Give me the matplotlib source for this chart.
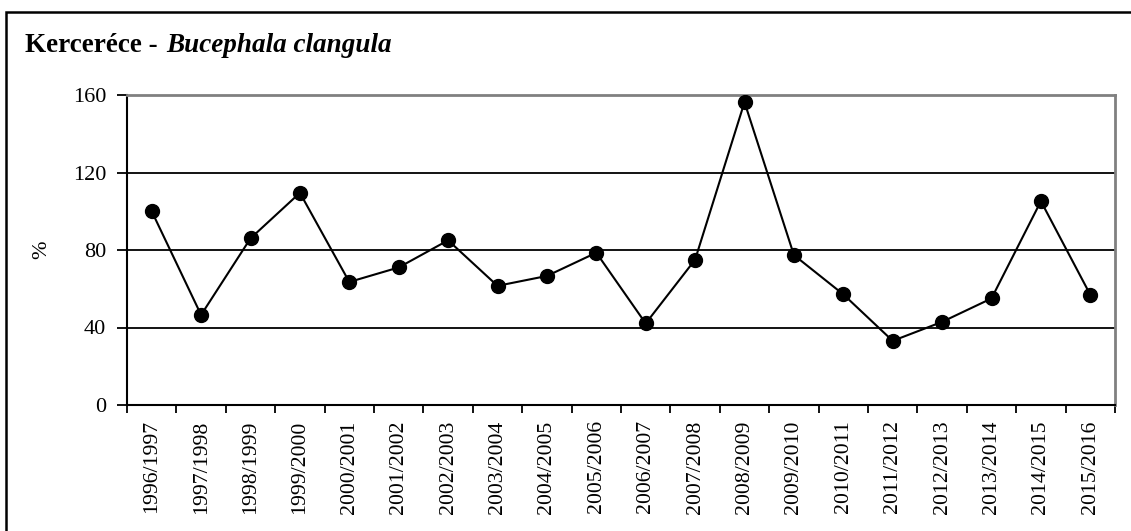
import matplotlib
matplotlib.use("Agg")
import matplotlib.pyplot as plt
from matplotlib.patches import Rectangle

# seasons and index values (%)
seasons = ["1996/1997", "1997/1998", "1998/1999", "1999/2000", "2000/2001",
           "2001/2002", "2002/2003", "2003/2004", "2004/2005", "2005/2006",
           "2006/2007", "2007/2008", "2008/2009", "2009/2010", "2010/2011",
           "2011/2012", "2012/2013", "2013/2014", "2014/2015", "2015/2016"]
values = [100, 46.5, 86, 109.5, 63.5, 71, 85, 61.5, 66.6, 78.6,
          42.1, 75, 156.3, 77.4, 57.1, 33.1, 42.9, 55, 105.2, 56.9]
yticks = [0, 40, 80, 120, 160]

plt.rcParams['font.family'] = ['Liberation Serif', 'DejaVu Serif']

W, H = 1131, 531
fig = plt.figure(figsize=(W / 100, H / 100), dpi=100)
ax = fig.add_axes([127 / W, 1 - 405 / H, (1115 - 127) / W, (405 - 95) / H])

x = list(range(len(seasons)))
ax.plot(x, values, color='black', lw=1.5, marker='o', markersize=10, zorder=3)

ax.set_xlim(-0.5, len(seasons) - 0.5)
ax.set_ylim(0, 160)
ax.set_yticks(yticks)
ax.set_yticklabels([str(t) for t in yticks], fontsize=16)
for t in yticks[1:-1]:
    ax.axhline(t, color='black', lw=1.3, zorder=1)

# labels at centers, tick marks at category boundaries
ax.set_xticks(x)
ax.set_xticklabels(seasons, rotation=90, fontsize=15.7)
ax.set_xticks([i - 0.5 for i in range(len(seasons) + 1)], minor=True)
ax.tick_params(axis='x', which='major', length=0, pad=11)
ax.tick_params(axis='x', which='minor', length=6, width=1.3, direction='out')
ax.tick_params(axis='y', length=7, width=1.3, direction='out', pad=8)

ax.spines['left'].set_linewidth(1.5)
ax.spines['bottom'].set_linewidth(1.5)
ax.spines['top'].set_color('#808080')
ax.spines['right'].set_color('#808080')
ax.spines['top'].set_linewidth(2)
ax.spines['right'].set_linewidth(2)

fig.text(42 / W, 1 - 250 / H, '%', fontsize=16, rotation=90,
         ha='center', va='center')

# outer frame (runs off the right and bottom edges)
fig.patches.append(Rectangle((6 / W, -0.1), 1.2, 1 - 12 / H + 0.1,
                             transform=fig.transFigure, fill=False,
                             edgecolor='black', lw=1.8, clip_on=False))

# title: bold part + bold italic species name
t1 = fig.text(25 / W, 1 - 52 / H, 'Kerceréce - ',
              fontsize=19.5, fontweight='bold', va='baseline')
fig.canvas.draw()
bb = t1.get_window_extent()
fig.text(bb.x1 / W + 2 / W, 1 - 52 / H, 'Bucephala clangula', fontsize=19.5,
         fontweight='bold', fontstyle='italic', va='baseline')

fig.savefig('out.png', dpi=100)
